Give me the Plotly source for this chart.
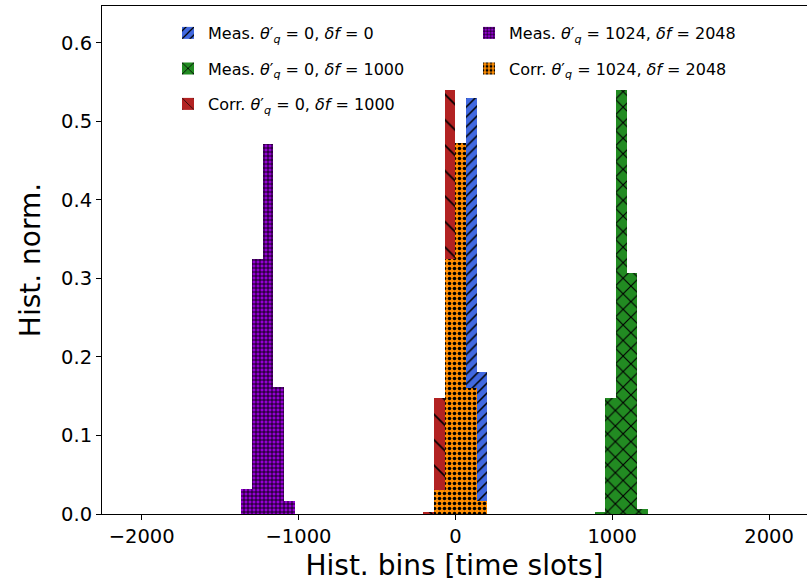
import plotly.graph_objects as go

# ---------------- data ----------------
bin_width = 68.27  # histogram bin width [time slots]

meas_0_0_x = [-34.1, 34.1, 102.4, 170.7]
meas_0_0_y = [0.010, 0.280, 0.530, 0.181]

meas_0_1000_x = [921.6, 989.9, 1058.1, 1126.4, 1194.7]
meas_0_1000_y = [0.003, 0.148, 0.540, 0.307, 0.0066]

corr_0_1000_x = [-170.7, -102.4, -34.1, 34.1, 102.4]
corr_0_1000_y = [0.003, 0.148, 0.540, 0.307, 0.0066]

meas_1024_2048_x = [-1331.2, -1262.9, -1194.7, -1126.4, -1058.1]
meas_1024_2048_y = [0.032, 0.325, 0.471, 0.162, 0.016]

corr_1024_2048_x = [-102.4, -34.1, 34.1, 102.4, 170.7]
corr_1024_2048_y = [0.030, 0.325, 0.472, 0.161, 0.016]

labels = [
    "Meas. <i>θ</i>′<sub><i>q</i></sub> = 0, <i>δf</i> = 0",
    "Meas. <i>θ</i>′<sub><i>q</i></sub> = 0, <i>δf</i> = 1000",
    "Corr. <i>θ</i>′<sub><i>q</i></sub> = 0, <i>δf</i> = 1000",
    "Meas. <i>θ</i>′<sub><i>q</i></sub> = 1024, <i>δf</i> = 2048",
    "Corr. <i>θ</i>′<sub><i>q</i></sub> = 1024, <i>δf</i> = 2048",
]

x_ticks = [-2000, -1000, 0, 1000, 2000]
y_ticks = [0.0, 0.1, 0.2, 0.3, 0.4, 0.5, 0.6]

# ---------------- styling ----------------
FONT = "DejaVu Sans"
series = [
    (meas_0_0_x, meas_0_0_y, "#4169E1", "/", 7, 0.22),
    (meas_0_1000_x, meas_0_1000_y, "#228B22", "x", 11, 0.2),
    (corr_0_1000_x, corr_0_1000_y, "#B22222", "\\", 18, 0.09),
    (meas_1024_2048_x, meas_1024_2048_y, "#9400D3", "+", 4, 0.38),
    (corr_1024_2048_x, corr_1024_2048_y, "#FF8C00", ".", 5, 0.4),
]
legend_ids = ["legend", "legend2", "legend3", "legend4", "legend5"]

fig = go.Figure()
for (xs, ys, col, shp, sz, sol), lab, lid in zip(series, labels, legend_ids):
    fig.add_trace(go.Bar(
        x=xs, y=ys, width=bin_width, name=lab, legend=lid,
        marker=dict(color=col, line=dict(width=0),
                    pattern=dict(shape=shp, fgcolor="black", bgcolor=col,
                                 size=sz, solidity=sol, fgopacity=1)),
    ))

# plot-area geometry (pixels)
L, R, T, B = 102, 0, 6, 68
W, H = 807, 582
pw, ph = W - L - R, H - T - B

def px2paper(px, py):
    return (px - L) / pw, (H - B - py) / ph

leg_pos = [(168, 33), (168, 68.5), (168, 104), (469, 33), (469, 68.5)]
legends = {}
for lid, (lx, ly) in zip(legend_ids, leg_pos):
    xx, yy = px2paper(lx, ly)
    legends[lid] = dict(x=xx, y=yy, xanchor="left", yanchor="middle",
                        bgcolor="rgba(0,0,0,0)", borderwidth=0,
                        font=dict(family=FONT, size=16, color="black"))

fig.update_layout(
    width=W, height=H,
    margin=dict(l=L, r=R, t=T, b=B, pad=0, autoexpand=False),
    paper_bgcolor="white", plot_bgcolor="white",
    barmode="overlay", bargap=0,
    font=dict(family=FONT, color="black"),
    showlegend=True,
    **legends,
)

fig.update_xaxes(
    range=[-2253, 2242], tickvals=x_ticks, ticks="outside", ticklen=5,
    tickwidth=1, tickcolor="black", showline=True, linecolor="black",
    linewidth=1, mirror=True, showgrid=False, zeroline=False,
    automargin=False,
    tickfont=dict(family=FONT, size=19.5, color="black"),
    title=dict(text="Hist. bins [time slots]",
               font=dict(family=FONT, size=28, color="black"), standoff=8),
)
fig.update_yaxes(
    range=[0, 0.647], tickvals=y_ticks, tickformat=".1f", ticks="outside",
    ticklen=5, tickwidth=1, tickcolor="black", showline=True,
    linecolor="black", linewidth=1, mirror=False, showgrid=False,
    zeroline=False, automargin=False,
    tickfont=dict(family=FONT, size=19.5, color="black"),
    title=dict(text="Hist. norm.",
               font=dict(family=FONT, size=28, color="black"), standoff=12),
)

fig.write_html("out.html",
               config={"displayModeBar": False},
               post_script="document.body.style.margin='0';"
                           "document.body.style.padding='0';")
